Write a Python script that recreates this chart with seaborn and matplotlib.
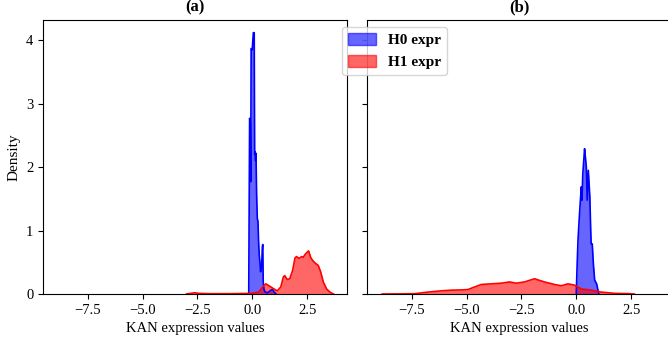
import matplotlib
matplotlib.use("Agg")
import matplotlib.pyplot as plt
import seaborn as sns
from matplotlib.patches import Patch

# ---- data (density curves) ----
h0a_x = [-0.20, -0.16, -0.12, -0.09, -0.07, -0.05, 0.00, 0.03, 0.05, 0.09, 0.11, 0.13,
         0.15, 0.17, 0.20, 0.23, 0.26, 0.29, 0.32, 0.35, 0.38, 0.43, 0.46, 0.48, 0.50,
         0.53, 0.57, 0.65, 0.75, 0.85, 0.92, 1.00, 1.08]
h0a_y = [0.00, 0.00, 2.77, 2.70, 1.77, 3.87, 3.85, 4.02, 4.12, 4.12, 2.20, 2.24,
         2.10, 2.22, 1.56, 1.19, 1.15, 0.82, 0.61, 0.50, 0.35, 0.45, 0.74, 0.78, 0.20,
         0.08, 0.04, 0.02, 0.03, 0.06, 0.07, 0.03, 0.00]

h1a_x = [-3.00, -2.80, -2.62, -2.45, -2.00, -1.00, 0.00, 0.30, 0.45, 0.62, 0.81, 0.99,
         1.14, 1.30, 1.42, 1.48, 1.59, 1.71, 1.84, 1.95, 2.02, 2.14, 2.25, 2.33, 2.40,
         2.51, 2.57, 2.66, 2.75, 2.86, 3.01, 3.12, 3.24, 3.39, 3.54, 3.70]
h1a_y = [0.00, 0.01, 0.02, 0.01, 0.005, 0.005, 0.01, 0.03, 0.10, 0.16, 0.12, 0.08,
         0.05, 0.11, 0.27, 0.29, 0.23, 0.24, 0.37, 0.57, 0.59, 0.56, 0.59, 0.58, 0.62,
         0.66, 0.68, 0.58, 0.53, 0.49, 0.45, 0.35, 0.19, 0.08, 0.03, 0.00]

h0b_x = [0.00, 0.04, 0.08, 0.15, 0.23, 0.26, 0.30, 0.38, 0.42, 0.46, 0.50, 0.55,
         0.62, 0.66, 0.68, 0.73, 0.78, 0.84, 0.93, 0.99, 1.03]
h0b_y = [0.00, 0.45, 0.85, 1.27, 1.69, 1.48, 1.90, 2.29, 2.15, 2.00, 1.48, 1.95,
         1.53, 1.00, 0.79, 0.79, 0.48, 0.22, 0.16, 0.06, 0.00]

h1b_x = [-8.85, -8.00, -7.37, -6.76, -6.16, -5.70, -5.20, -4.94, -4.64, -4.33, -3.88,
         -3.42, -3.04, -2.74, -2.36, -1.90, -1.45, -0.99, -0.68, -0.38, -0.08, 0.23,
         0.68, 1.14, 1.75, 2.43, 2.65]
h1b_y = [0.00, 0.002, 0.005, 0.03, 0.05, 0.06, 0.065, 0.07, 0.11, 0.15, 0.16,
         0.17, 0.19, 0.17, 0.19, 0.24, 0.19, 0.15, 0.13, 0.16, 0.14, 0.08,
         0.06, 0.03, 0.01, 0.005, 0.00]

panel_titles = ["(a)", "(b)"]
series_labels = ["H0 expr", "H1 expr"]
series_colors = ["blue", "red"]
xlabel = "KAN expression values"
ylabel = "Density"
yticks = [0, 1, 2, 3, 4]

plt.rcParams["font.family"] = ["Liberation Serif", "DejaVu Serif"]
plt.rcParams["font.size"] = 10.5

W, H = 668, 340
fig = plt.figure(figsize=(W / 100, H / 100), dpi=100)
axa = fig.add_axes([43 / W, (H - 294) / H, 304 / W, 274 / H])
axb = fig.add_axes([367 / W, (H - 294) / H, 304 / W, 274 / H], sharex=axa, sharey=axa)

panels = [(axa, [(h0a_x, h0a_y), (h1a_x, h1a_y)]),
          (axb, [(h0b_x, h0b_y), (h1b_x, h1b_y)])]

for (ax, series), title in zip(panels, panel_titles):
    for (xs, ys), col in zip(series, series_colors):
        ax.fill_between(xs, ys, 0, color=col, alpha=0.6, linewidth=0)
        sns.lineplot(x=xs, y=ys, color=col, linewidth=1.2, ax=ax, sort=False)
    ax.set_title(title, fontweight="bold", fontsize=12)
    ax.set_xlabel(xlabel)
    ax.set_ylabel("")

axa.set_ylabel(ylabel, fontsize=11)
axa.set_xlim(-9.54, 4.32)
axa.set_ylim(0, 4.32)
axa.set_yticks(yticks)
axa.set_xticks([-7.5, -5.0, -2.5, 0.0, 2.5])
plt.setp(axb.get_yticklabels(), visible=False)

handles = [Patch(facecolor=c, edgecolor=c, alpha=0.6, label=l)
           for c, l in zip(series_colors, series_labels)]
fig.legend(handles=handles, loc="upper left", bbox_to_anchor=(342 / W, 1 - 27 / H),
           borderaxespad=0.0, prop={"weight": "bold", "size": 11},
           handlelength=1.8, handleheight=0.8, framealpha=0.8)

fig.savefig("out.png", dpi=100)
